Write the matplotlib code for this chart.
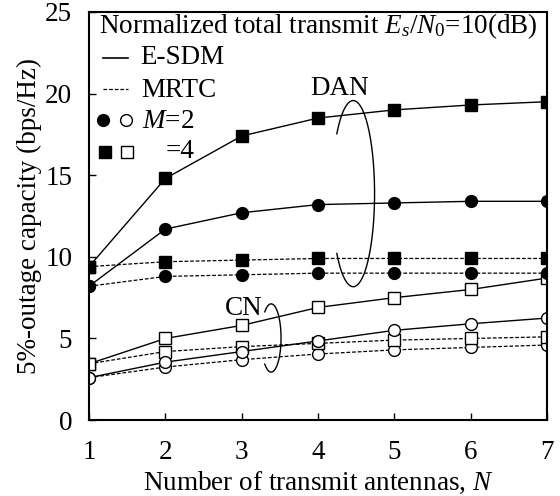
import numpy as np
import matplotlib
matplotlib.use("Agg")
import matplotlib.pyplot as plt

plt.rcParams['font.family'] = ['Liberation Serif', 'DejaVu Serif']
plt.rcParams['mathtext.fontset'] = 'custom'
plt.rcParams['mathtext.rm'] = 'Liberation Serif'
plt.rcParams['mathtext.it'] = 'Liberation Serif:italic'

N = [1, 2, 3, 4, 5, 6, 7]

# DAN
esdm_dan_m4 = [9.4, 14.8, 17.4, 18.5, 19.0, 19.3, 19.5]
esdm_dan_m2 = [8.2, 11.7, 12.7, 13.2, 13.3, 13.4, 13.4]
mrtc_dan_m4 = [9.4, 9.7, 9.8, 9.9, 9.9, 9.9, 9.9]
mrtc_dan_m2 = [8.2, 8.8, 8.9, 9.0, 9.0, 9.0, 9.0]
# CN
esdm_cn_m4 = [3.45, 5.0, 5.8, 6.9, 7.5, 8.0, 8.7]
esdm_cn_m2 = [2.6, 3.55, 4.2, 4.85, 5.5, 5.9, 6.25]
mrtc_cn_m4 = [3.45, 4.2, 4.5, 4.7, 4.9, 5.0, 5.1]
mrtc_cn_m2 = [2.6, 3.25, 3.7, 4.05, 4.3, 4.45, 4.6]

fs = 19.5
fig = plt.figure(figsize=(5.6, 4.96), dpi=100)
ax = fig.add_axes([0.159, 0.153, 0.818, 0.823])

dash = (0, (3, 1.5))
ms = 8.5
# CN first (drawn under)
ax.plot(N, mrtc_cn_m2, linestyle=dash, color='k', lw=0.9, marker='o', ms=ms, mfc='white', mec='k', mew=1)
ax.plot(N, mrtc_cn_m4, linestyle=dash, color='k', lw=0.9, marker='s', ms=ms, mfc='white', mec='k', mew=1)
ax.plot(N, esdm_cn_m2, linestyle='-', color='k', lw=1, marker='o', ms=ms, mfc='white', mec='k', mew=1)
ax.plot(N, esdm_cn_m4, linestyle='-', color='k', lw=1, marker='s', ms=ms, mfc='white', mec='k', mew=1)
ax.plot(N, mrtc_dan_m2, linestyle=dash, color='k', lw=0.9, marker='o', ms=ms, mfc='k', mec='k')
ax.plot(N, mrtc_dan_m4, linestyle=dash, color='k', lw=0.9, marker='s', ms=ms, mfc='k', mec='k')
ax.plot(N, esdm_dan_m2, linestyle='-', color='k', lw=1, marker='o', ms=ms, mfc='k', mec='k')
ax.plot(N, esdm_dan_m4, linestyle='-', color='k', lw=1, marker='s', ms=ms, mfc='k', mec='k')

# open ellipses marking groups
def arc(cx, cy, a, b, t1, t2):
    t = np.deg2rad(np.linspace(t1, t2, 200))
    ax.plot(cx + a * np.cos(t), cy + b * np.sin(t), color='k', lw=1)

arc(4.46, 13.87, 0.28, 5.7, 140, 220 - 360)
arc(3.385, 5.03, 0.13, 2.09, 130, 230 - 360)
ax.text(4.28, 19.94, 'DAN', fontsize=fs, ha='center', va='baseline')
ax.text(3.02, 6.44, 'CN', fontsize=fs, ha='center', va='baseline')

ax.set_xlim(1, 7)
ax.set_ylim(0, 25)
ax.set_xticks(N)
ax.set_yticks([0, 5, 10, 15, 20, 25])
ax.tick_params(direction='in', labelsize=fs, length=5, width=1)
ax.tick_params(axis='x', pad=14)
ax.tick_params(axis='y', pad=12)
for s in ax.spines.values():
    s.set_linewidth(1.5)
ax.set_xlabel('Number of transmit antennas, $N$', fontsize=fs, labelpad=4)
ax.set_ylabel('5%-outage capacity (bps/Hz)', fontsize=fs, labelpad=2)

# legend drawn by hand in axes coordinates
ax.text(0.022, 0.9485, 'Normalized total transmit $E_s/N_0$=10(dB)', transform=ax.transAxes,
        fontsize=fs, va='baseline', ha='left')
ax.plot([0.031, 0.085], [0.886, 0.886], transform=ax.transAxes, color='k', lw=1.2)
ax.text(0.111, 0.873, 'E-SDM', transform=ax.transAxes, fontsize=fs, va='baseline')
ax.plot([0.031, 0.085], [0.811, 0.811], transform=ax.transAxes, color='k', lw=0.9, linestyle=dash)
ax.text(0.114, 0.792, 'MRTC', transform=ax.transAxes, fontsize=fs, va='baseline')
ax.plot([0.031], [0.735], 'o', transform=ax.transAxes, ms=ms, mfc='k', mec='k')
ax.plot([0.081], [0.735], 'o', transform=ax.transAxes, ms=ms, mfc='white', mec='k', mew=1)
ax.text(0.116, 0.716, '$M$=2', transform=ax.transAxes, fontsize=fs, va='baseline')
ax.plot([0.035], [0.657], 's', transform=ax.transAxes, ms=ms, mfc='k', mec='k')
ax.plot([0.083], [0.657], 's', transform=ax.transAxes, ms=ms, mfc='white', mec='k', mew=1)
ax.text(0.168, 0.642, '=4', transform=ax.transAxes, fontsize=fs, va='baseline')

fig.savefig('out.png', dpi=100)
